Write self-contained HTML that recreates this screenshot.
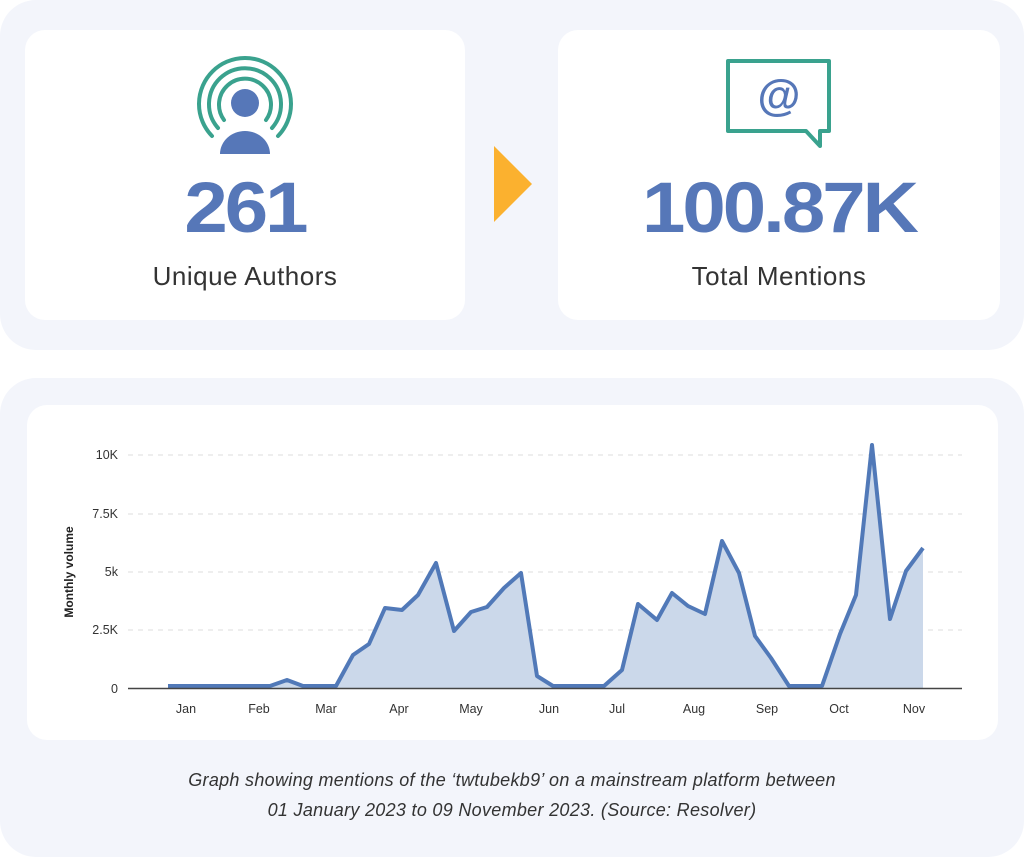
<!DOCTYPE html>
<html><head><style>
body{margin:0;width:1024px;height:857px;background:#fff;font-family:"Liberation Sans",sans-serif;position:relative;overflow:hidden}
.panel{position:absolute;background:#f3f5fb;border-radius:36px}
.card{position:absolute;background:#fff;border-radius:20px}
.big{position:absolute;width:100%;text-align:center;font-weight:bold;color:#5677b8;font-size:78px;letter-spacing:-3px;top:160px;transform:scaleY(0.92)}
.lbl{position:absolute;width:100%;text-align:center;color:#333;font-size:26px;letter-spacing:0.5px;top:262px}
.cap{position:absolute;width:100%;text-align:center;font-style:italic;color:#333;font-size:18px;letter-spacing:0.3px}
</style></head><body>
<div class="panel" style="left:0;top:0;width:1024px;height:350px"></div>
<div class="panel" style="left:0;top:378px;width:1024px;height:479px"></div>
<div class="card" style="left:25px;top:30px;width:440px;height:290px">
<svg style="position:absolute;left:0;top:0" width="440" height="290">
<g fill="none" stroke="#3aa28e" stroke-width="4" stroke-linecap="round">
<path d="M187,106 A46,46 0 1 1 253,106"/><path d="M193,98 A36,36 0 1 1 247,98"/><path d="M199,90 A26,26 0 1 1 241,90"/></g>
<circle cx="220" cy="73" r="14" fill="#5677b8"/><path d="M195,124 A25,23 0 0 1 245,124 Z" fill="#5677b8"/>
</svg>
<div class="big" style="top:132px">261</div><div class="lbl" style="top:231px">Unique Authors</div></div>
<svg style="position:absolute;left:494px;top:146px" width="40" height="78"><path d="M0,0 L38,38 L0,76Z" fill="#fbb12f"/></svg>
<div class="card" style="left:558px;top:30px;width:442px;height:290px">
<svg style="position:absolute;left:0;top:0" width="442" height="290">
<path d="M170,31 H271 V101 H262 L262,116 L248,101 H170 Z" fill="none" stroke="#3aa28e" stroke-width="4" stroke-linejoin="round"/>
<text x="221" y="80" text-anchor="middle" font-size="44" font-weight="bold" fill="#5677b8" font-family="Liberation Sans">@</text></svg>
<div class="big" style="top:132px">100.87K</div><div class="lbl" style="top:231px">Total Mentions</div></div>
<div class="card" style="left:27px;top:405px;width:971px;height:335px"></div>
<svg style="position:absolute;left:0;top:0" width="1024" height="857" font-family="Liberation Sans">
<g stroke="#ddd" stroke-dasharray="5,5" stroke-width="1"><line x1="128" x2="962" y1="455" y2="455"/><line x1="128" x2="962" y1="514" y2="514"/><line x1="128" x2="962" y1="572" y2="572"/><line x1="128" x2="962" y1="630" y2="630"/></g>
<g font-size="12.5" fill="#333" text-anchor="end"><text x="118" y="459">10K</text><text x="118" y="518">7.5K</text><text x="118" y="576">5k</text><text x="118" y="634">2.5K</text><text x="118" y="693">0</text></g>
<text transform="translate(73,572) rotate(-90)" text-anchor="middle" font-size="12" font-weight="bold" fill="#222">Monthly volume</text>
<path d="M168,688 L168,686 L270,686 L287,680 L303,686 L336,686 L353,655 L369,644 L385,608 L402,610 L418,595 L436,563 L454,631 L471,612 L487,607 L504,588 L521,573 L537,676 L553,686 L604,686 L622,670 L638,604 L657,620 L672,593 L688,606 L705,614 L722,541 L739,573 L755,636 L771,658 L789,686 L822,686 L840,634 L856,595 L872,445 L890,619 L906,571 L923,548 L923,688Z" fill="#cbd8ea"/>
<path d="M168,686 L270,686 L287,680 L303,686 L336,686 L353,655 L369,644 L385,608 L402,610 L418,595 L436,563 L454,631 L471,612 L487,607 L504,588 L521,573 L537,676 L553,686 L604,686 L622,670 L638,604 L657,620 L672,593 L688,606 L705,614 L722,541 L739,573 L755,636 L771,658 L789,686 L822,686 L840,634 L856,595 L872,445 L890,619 L906,571 L923,548" fill="none" stroke="#5179b8" stroke-width="4" stroke-linejoin="round"/>
<line x1="128" x2="962" y1="688.5" y2="688.5" stroke="#444" stroke-width="1.5"/>
<g font-size="12.5" fill="#333" text-anchor="middle"><text x="186" y="713">Jan</text><text x="259" y="713">Feb</text><text x="326" y="713">Mar</text><text x="399" y="713">Apr</text><text x="471" y="713">May</text><text x="549" y="713">Jun</text><text x="617" y="713">Jul</text><text x="694" y="713">Aug</text><text x="767" y="713">Sep</text><text x="839" y="713">Oct</text><text x="914" y="713">Nov</text></g>
</svg>
<div class="cap" style="top:770px">Graph showing mentions of the ‘twtubekb9’ on a mainstream platform between</div>
<div class="cap" style="top:800px">01 January 2023 to 09 November 2023. (Source: Resolver)</div>
</body></html>
